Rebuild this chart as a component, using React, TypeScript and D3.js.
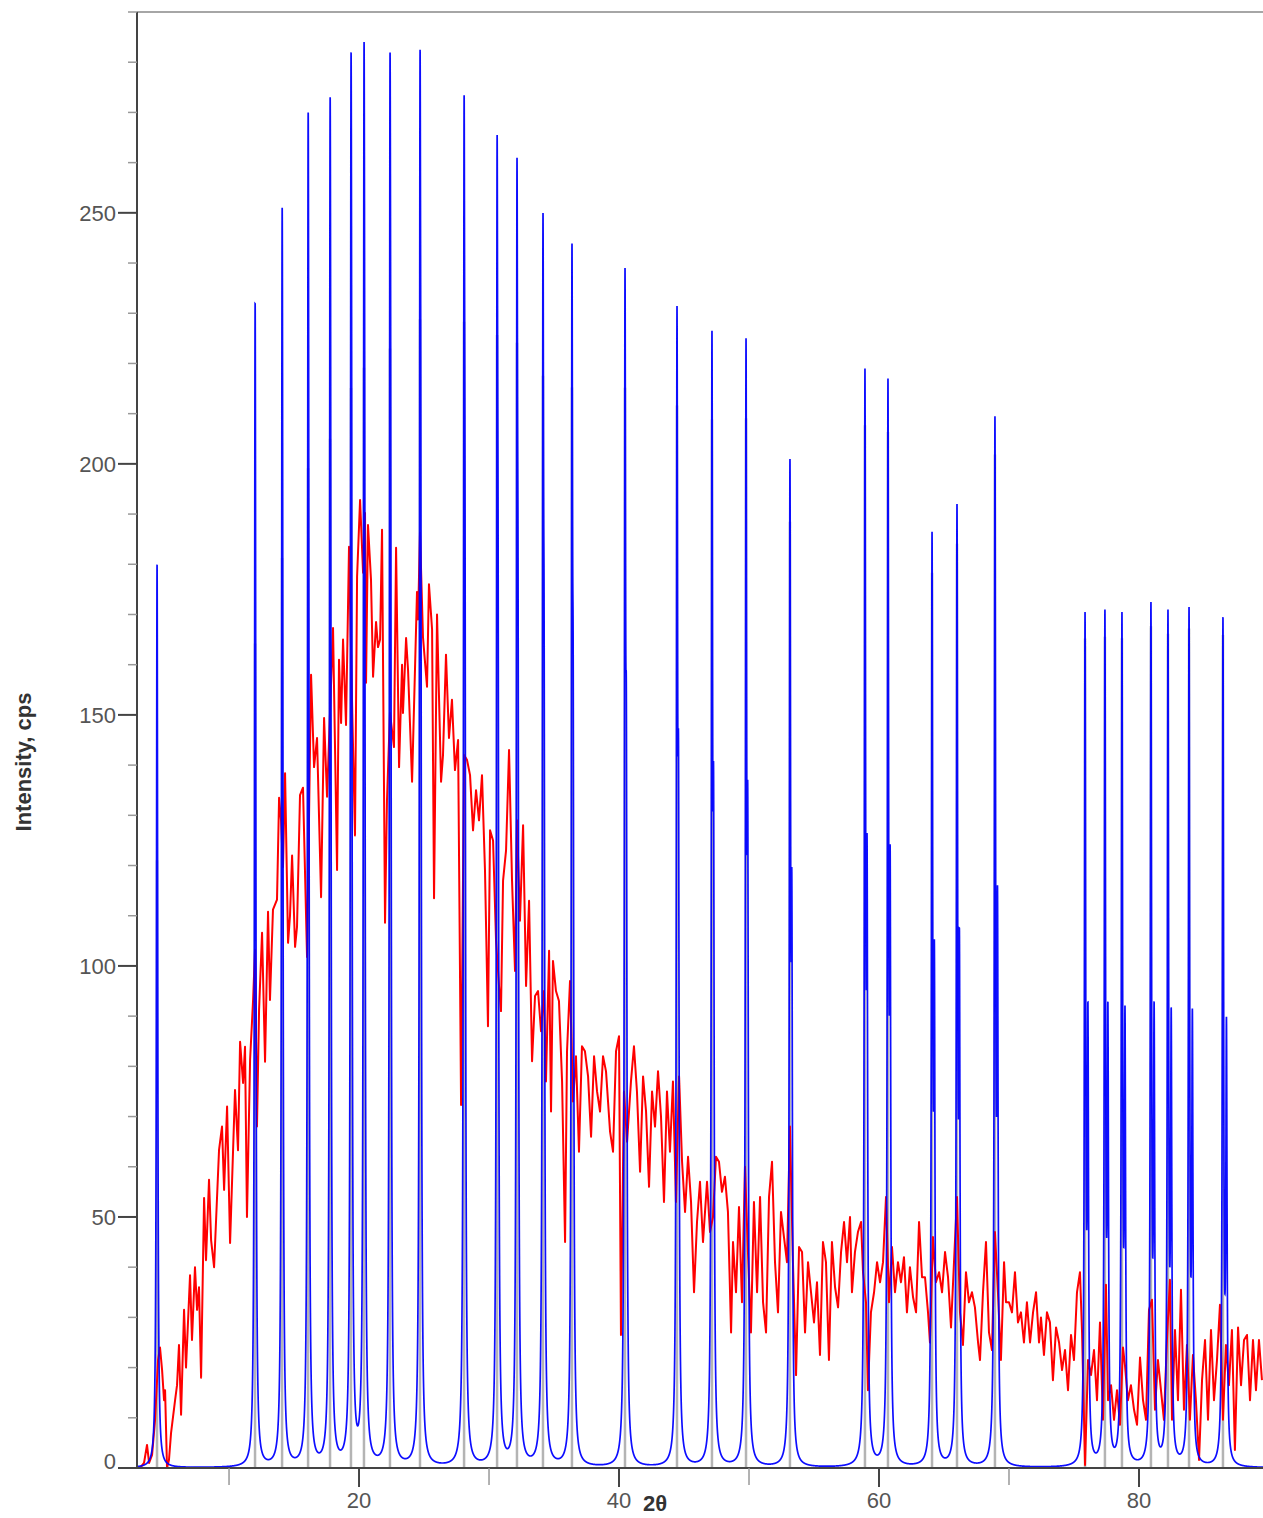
import React from 'react';
import * as d3 from 'd3';

// calculated reflections: 2θ position and visible peak top (cps)
const peakTheta = [4.46, 12.0, 14.08, 16.08, 17.77, 19.38, 20.38, 22.38, 24.69, 28.08, 30.62, 32.15, 34.15, 36.38,
  40.46, 44.46, 47.15, 49.77, 53.15, 58.92, 60.69, 64.08, 66.0, 68.92, 75.85, 77.38, 78.69, 80.92, 82.23, 83.85, 86.46];
const peakTop = [180, 232, 251, 270, 273, 282, 284, 282, 282.5, 273.5, 265.5, 261, 250, 244,
  239, 231.5, 226.5, 225, 201, 219, 217, 186.5, 192, 209.5, 170.5, 171, 170.5, 172.5, 171, 171.5, 169.5];

// experimental pattern [2θ, cps]
const expData: [number, number][] = [
  [3.15, 0], [3.46, 1], [3.69, 4.6], [3.85, 1], [4.08, 2.6], [4.31, 9.6], [4.54, 21.5], [4.69, 24], [4.85, 19.5],
  [5.0, 13.5], [5.08, 15.5], [5.23, 0], [5.38, 1.6], [5.54, 7], [5.85, 13.5], [6.0, 16.5], [6.15, 24.5], [6.31, 10.6],
  [6.54, 31.5], [6.69, 20], [7.0, 38.4], [7.15, 25.5], [7.38, 40], [7.54, 31.5], [7.69, 36], [7.85, 18], [8.08, 53.8],
  [8.23, 41.4], [8.46, 57.4], [8.62, 45.4], [8.85, 40], [9.23, 63.3], [9.46, 68], [9.62, 55.4], [9.85, 72], [10.08, 44.8],
  [10.46, 75.3], [10.69, 63.3], [10.85, 84.9], [11.08, 76.7], [11.23, 83.9], [11.38, 50], [11.62, 81.3], [11.85, 93.2],
  [12.0, 103.2], [12.15, 68], [12.31, 91.2], [12.54, 106.6], [12.77, 80.9], [13.0, 110.8], [13.15, 93.2], [13.38, 111.2],
  [13.69, 113.2], [13.85, 133.5], [14.0, 129], [14.15, 119.7], [14.31, 138.4], [14.54, 104.6], [14.69, 110], [14.85, 122],
  [15.08, 103.8], [15.23, 107.8], [15.46, 134], [15.69, 135.5], [16.0, 101.8], [16.31, 158], [16.54, 139.6], [16.77, 145.4],
  [17.08, 113.7], [17.31, 149.4], [17.54, 133.7], [18.0, 167.3], [18.31, 119.1], [18.46, 161], [18.62, 148.4], [18.77, 165],
  [19.0, 148], [19.23, 183.5], [19.46, 153], [19.69, 126], [19.85, 177.5], [20.08, 192.8], [20.31, 178.3], [20.46, 190.2],
  [20.54, 156.4], [20.69, 187.8], [20.92, 177], [21.08, 157.6], [21.31, 168.5], [21.46, 163.5], [21.62, 165], [21.77, 186.9],
  [22.0, 108.6], [22.15, 133], [22.38, 150.4], [22.69, 143.6], [22.85, 183.3], [23.08, 139.6], [23.31, 160], [23.38, 150.4],
  [23.62, 165.3], [23.77, 159], [24.08, 136.7], [24.46, 174.5], [24.54, 169], [24.69, 186.3], [24.92, 165.5], [25.23, 155.6],
  [25.38, 176], [25.62, 167], [25.77, 113.5], [26.0, 170], [26.31, 136.7], [26.46, 142], [26.69, 162], [26.92, 145.4],
  [27.15, 153], [27.38, 139], [27.62, 145], [27.85, 72.3], [28.08, 142], [28.31, 141], [28.54, 138], [28.77, 127],
  [29.0, 135], [29.23, 129], [29.46, 138], [29.69, 119], [29.92, 88], [30.08, 127], [30.31, 125], [30.54, 105], [30.77, 96],
  [30.92, 91], [31.08, 117], [31.31, 123], [31.54, 143], [31.77, 117], [32.0, 99], [32.15, 129], [32.38, 109], [32.62, 128],
  [32.85, 96], [33.08, 113], [33.31, 81], [33.54, 94], [33.77, 95], [34.0, 87], [34.23, 95], [34.38, 77], [34.62, 103],
  [34.77, 71], [34.92, 101], [35.15, 95], [35.38, 93], [35.62, 77], [35.85, 45], [36.0, 83], [36.23, 97], [36.46, 73],
  [36.69, 82], [36.92, 63], [37.15, 84], [37.38, 83], [37.62, 78], [37.85, 66], [38.08, 82], [38.31, 75], [38.54, 71],
  [38.77, 82], [39.0, 79], [39.31, 67], [39.54, 63], [39.77, 83], [40.0, 86], [40.15, 26.5], [40.38, 75], [40.62, 65],
  [40.92, 77], [41.15, 84], [41.38, 75], [41.62, 59], [41.85, 78], [42.08, 71], [42.31, 56], [42.54, 75], [42.77, 68],
  [43.0, 79], [43.23, 70], [43.46, 53], [43.69, 75], [43.92, 63], [44.15, 77], [44.38, 53], [44.62, 78], [44.85, 61],
  [45.08, 51], [45.31, 62], [45.54, 53], [45.77, 35], [46.0, 49], [46.23, 57], [46.46, 45], [46.77, 57], [47.0, 47],
  [47.23, 50], [47.46, 62], [47.69, 61], [47.92, 55], [48.15, 58], [48.38, 51], [48.62, 27], [48.77, 45], [49.0, 35],
  [49.23, 52], [49.46, 33], [49.69, 60], [49.92, 43], [50.15, 27], [50.38, 53], [50.62, 35], [50.85, 54], [51.08, 33],
  [51.31, 27], [51.54, 54], [51.77, 61], [52.0, 41], [52.23, 31], [52.46, 51], [52.69, 46], [52.92, 41], [53.15, 68],
  [53.38, 41], [53.62, 18.5], [53.85, 44], [54.08, 43], [54.31, 27], [54.54, 41], [54.77, 35], [55.0, 29], [55.23, 37],
  [55.46, 22.5], [55.69, 45], [55.92, 41], [56.15, 21.5], [56.38, 45], [56.62, 36], [56.85, 32], [57.08, 43], [57.31, 49],
  [57.54, 41], [57.77, 50], [57.92, 35], [58.15, 43], [58.38, 47], [58.62, 49], [58.77, 39], [59.0, 33], [59.15, 15.5],
  [59.38, 31], [59.62, 35], [59.85, 41], [60.08, 37], [60.31, 41], [60.54, 54], [60.77, 33], [61.0, 44], [61.23, 35],
  [61.46, 41], [61.69, 37], [61.92, 42], [62.15, 31], [62.38, 40], [62.62, 34], [62.85, 31], [63.08, 49], [63.31, 38],
  [63.54, 38], [63.77, 31], [63.92, 25], [64.15, 46], [64.38, 37], [64.62, 39], [64.85, 35], [65.08, 43], [65.31, 38],
  [65.54, 28], [65.77, 41], [66.0, 54], [66.23, 31], [66.46, 24.5], [66.69, 39], [66.92, 33], [67.15, 35], [67.38, 32],
  [67.62, 25], [67.77, 21.5], [68.0, 35], [68.23, 45], [68.46, 27], [68.69, 23.5], [68.92, 47], [69.15, 35], [69.38, 21.5],
  [69.62, 41], [69.77, 33], [70.0, 33], [70.23, 31], [70.46, 39], [70.69, 29], [70.92, 31], [71.15, 25], [71.38, 33],
  [71.62, 25], [71.85, 31], [72.08, 35], [72.31, 25], [72.46, 30], [72.69, 22.5], [72.92, 31], [73.15, 29], [73.38, 17.5],
  [73.62, 28], [73.85, 25], [74.08, 19.5], [74.31, 23.5], [74.54, 15.5], [74.77, 26.5], [75.0, 21.5], [75.23, 35],
  [75.46, 39], [75.62, 27], [75.85, 0.6], [76.08, 21.5], [76.31, 18.5], [76.54, 23.5], [76.77, 13.5], [77.0, 29],
  [77.23, 9.6], [77.46, 36.5], [77.62, 13.5], [77.85, 16.5], [78.08, 9.6], [78.31, 15.5], [78.54, 8.6], [78.77, 24],
  [78.92, 20.5], [79.15, 13.5], [79.38, 16.5], [79.62, 11.6], [79.85, 8.6], [80.08, 22], [80.31, 13.5], [80.54, 9.6],
  [80.77, 31.5], [81.0, 33.5], [81.23, 11.6], [81.46, 21.5], [81.69, 15.5], [81.92, 9.6], [82.15, 25.5], [82.38, 37.5],
  [82.54, 9.6], [82.77, 27.5], [83.0, 13.5], [83.23, 35.5], [83.46, 11.6], [83.69, 24.5], [83.92, 9.6], [84.15, 22.5],
  [84.38, 13.5], [84.62, 1.6], [84.85, 17.5], [85.08, 25.5], [85.31, 9.6], [85.54, 27.5], [85.77, 13.5], [86.0, 21.5],
  [86.23, 32.5], [86.46, 9.6], [86.69, 24.5], [86.92, 16.5], [87.15, 27.5], [87.38, 3.6], [87.62, 28], [87.85, 16.5],
  [88.08, 25.5], [88.31, 26.5], [88.54, 13.5], [88.77, 25.5], [89.0, 15.5], [89.23, 25.5], [89.46, 17.5],
];

const yTicks = [0, 50, 100, 150, 200, 250];
const yMinor = d3.range(0, 291, 10).filter(v => v % 50 !== 0);
const xTicks = [20, 40, 60, 80];
const xMinor = [10, 30, 50, 70];

const HWHM = 0.055;       // peak half width, degrees
const KA2_RATIO = 0.5;
const LAMBDA1 = 1.540562, LAMBDA2 = 1.54439;

const rad = Math.PI / 180;
const ka2Pos = (t: number) => 2 * Math.asin((LAMBDA2 / LAMBDA1) * Math.sin((t / 2) * rad)) / rad;
const lor = (d: number) => 1 / (1 + (d / HWHM) * (d / HWHM));

type Peak = { t: number; t2: number; h1: number };

function profileAt(t: number, peaks: Peak[]) {
  let v = 0;
  for (const p of peaks) v += p.h1 * (lor(t - p.t) + KA2_RATIO * lor(t - p.t2));
  return v;
}

// scale each Kα1 height so the drawn doublet maximum matches the visible top
function fitPeaks(): Peak[] {
  const peaks = peakTheta.map((t, i) => ({ t, t2: ka2Pos(t), h1: peakTop[i] / 1.3 }));
  for (let iter = 0; iter < 4; iter++) {
    peaks.forEach((p, i) => {
      let m = 0;
      for (let t = p.t - 0.03; t <= p.t2 + 0.03; t += 0.001) m = Math.max(m, profileAt(t, peaks));
      p.h1 *= peakTop[i] / m;
    });
  }
  return peaks;
}

export default function App() {
  const width = 1263, height = 1518;
  const left = 137, right = 1263, top = 12, bottom = 1468;

  const x = d3.scaleLinear().domain([2.92, 89.54]).range([left, right]);
  const y = d3.scaleLinear().domain([0, 290]).range([bottom, top]);

  const peaks = React.useMemo(fitPeaks, []);

  const calc = React.useMemo(() => {
    const pts: [number, number][] = [];
    const [d0, d1] = x.domain();
    for (let t = d0; t <= d1; t += 0.003) pts.push([t, profileAt(t, peaks)]);
    return pts;
  }, [peaks]);

  const line = d3.line<[number, number]>().x(d => x(d[0])).y(d => y(d[1]));

  const font = '"Liberation Sans", Arial, sans-serif';
  const tickFont = { fontFamily: font, fontSize: 22, fill: '#555' };

  return (
    <svg width={width} height={height} style={{ position: 'absolute', left: 0, top: 0, background: '#fff' }}>
      <defs>
        <clipPath id="plot">
          <rect x={left} y={top} width={right - left} height={bottom - top + 1} />
        </clipPath>
      </defs>

      <g clipPath="url(#plot)">
        {peaks.map((p, i) => (
          <line key={i} x1={x(p.t)} x2={x(p.t)} y1={y(0)} y2={y(p.h1)} stroke="#b4b4b4" strokeWidth={2.5} />
        ))}
        <path d={line(expData) || ''} fill="none" stroke="#ff0000" strokeWidth={2} strokeLinejoin="round" />
        <path d={line(calc) || ''} fill="none" stroke="#0000ff" strokeWidth={1.7} strokeOpacity={0.95} />
      </g>

      {/* frame */}
      <line x1={left} x2={right} y1={top} y2={top} stroke="#888" strokeWidth={1.5} />
      <line x1={left} x2={left} y1={top} y2={bottom} stroke="#444" strokeWidth={2} />
      <line x1={left} x2={right} y1={bottom} y2={bottom} stroke="#444" strokeWidth={2} />

      {/* y axis */}
      {yMinor.map(v => (
        <line key={'ym' + v} x1={left - 9} x2={left} y1={y(v)} y2={y(v)} stroke="#999" strokeWidth={1.5} />
      ))}
      {yTicks.map(v => (
        <g key={'y' + v}>
          <line x1={left - 19} x2={left} y1={y(v)} y2={y(v)} stroke="#444" strokeWidth={2} />
          <text x={left - 21} y={y(v) + (v === 0 ? 1 : 8)} textAnchor="end" {...tickFont}>{v}</text>
        </g>
      ))}

      {/* x axis */}
      {xMinor.map(v => (
        <line key={'xm' + v} x1={x(v)} x2={x(v)} y1={bottom} y2={bottom + 17} stroke="#999" strokeWidth={1.5} />
      ))}
      {xTicks.map(v => (
        <g key={'x' + v}>
          <line x1={x(v)} x2={x(v)} y1={bottom} y2={bottom + 19} stroke="#444" strokeWidth={2} />
          <text x={x(v)} y={bottom + 40} textAnchor="middle" {...tickFont}>{v}</text>
        </g>
      ))}

      <text x={655} y={bottom + 43} textAnchor="middle" fontFamily={font}
        fontSize={22} fontWeight="bold" fill="#333">2θ</text>
      <text transform={`translate(31, 762) rotate(-90)`} textAnchor="middle"
        fontFamily={font} fontSize={22} fontWeight="bold" fill="#333">Intensity, cps</text>
    </svg>
  );
}
